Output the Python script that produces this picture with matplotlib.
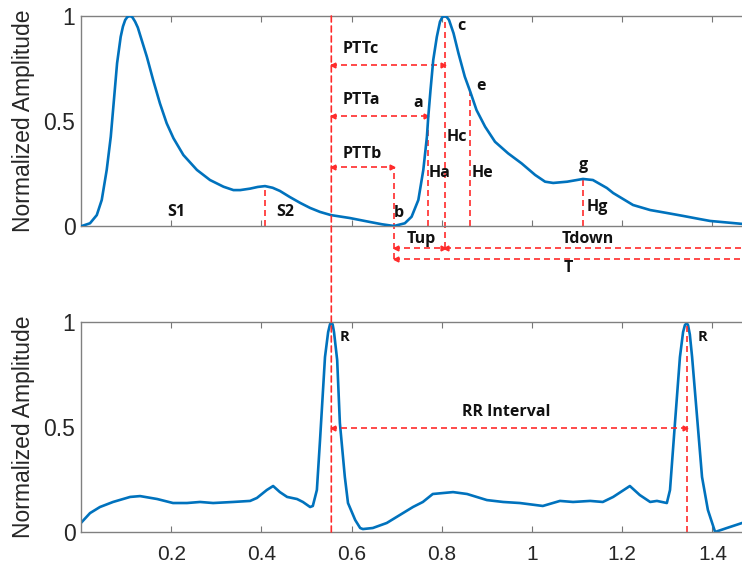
import numpy as np
import matplotlib
matplotlib.use("Agg")
import matplotlib.pyplot as plt
from matplotlib.patches import ConnectionPatch

# PPG pulse (top), time in s, normalized amplitude
ppg_t = [0.002, 0.020, 0.035, 0.046, 0.057, 0.066, 0.073, 0.080, 0.088, 0.093, 0.098,
         0.103, 0.109, 0.114, 0.120, 0.126, 0.131, 0.146, 0.160, 0.175, 0.190, 0.205,
         0.227, 0.257, 0.286, 0.316, 0.338, 0.353, 0.375, 0.392, 0.408, 0.425, 0.441,
         0.463, 0.486, 0.508, 0.530, 0.554, 0.581, 0.596, 0.641, 0.668, 0.694, 0.718,
         0.733, 0.748, 0.759, 0.767, 0.770, 0.775, 0.781, 0.789, 0.796, 0.801, 0.806,
         0.811, 0.816, 0.826, 0.837, 0.851, 0.863, 0.877, 0.896, 0.918, 0.947, 0.977,
         1.007, 1.029, 1.047, 1.078, 1.113, 1.135, 1.166, 1.180, 1.224, 1.262, 1.299,
         1.335, 1.372, 1.395, 1.446, 1.466]
ppg_amp = [0.0, 0.013, 0.052, 0.124, 0.267, 0.425, 0.600, 0.775, 0.901, 0.950, 0.981,
           0.996, 1.0, 0.994, 0.973, 0.945, 0.910, 0.806, 0.695, 0.584, 0.489, 0.418,
           0.338, 0.267, 0.219, 0.187, 0.171, 0.171, 0.178, 0.186, 0.190, 0.182, 0.167,
           0.138, 0.110, 0.086, 0.067, 0.052, 0.043, 0.038, 0.019, 0.008, 0.0, 0.013,
           0.044, 0.124, 0.267, 0.425, 0.520, 0.648, 0.790, 0.901, 0.973, 0.994, 1.0,
           0.995, 0.981, 0.918, 0.822, 0.711, 0.640, 0.552, 0.473, 0.401, 0.346, 0.298,
           0.243, 0.211, 0.205, 0.211, 0.224, 0.219, 0.181, 0.157, 0.100, 0.076, 0.062,
           0.048, 0.033, 0.024, 0.014, 0.010]

# ECG (bottom)
ecg_t = [0.002, 0.020, 0.042, 0.071, 0.109, 0.131, 0.169, 0.204, 0.235, 0.264, 0.293,
         0.337, 0.375, 0.390, 0.412, 0.426, 0.441, 0.457, 0.479, 0.492, 0.508, 0.514,
         0.523, 0.530, 0.541, 0.548, 0.552, 0.555, 0.558, 0.561, 0.568, 0.574, 0.585,
         0.592, 0.608, 0.619, 0.625, 0.647, 0.678, 0.707, 0.736, 0.758, 0.780, 0.825,
         0.856, 0.900, 0.936, 0.973, 1.024, 1.062, 1.091, 1.129, 1.157, 1.180, 1.217,
         1.239, 1.262, 1.277, 1.299, 1.306, 1.317, 1.328, 1.335, 1.339, 1.343, 1.346,
         1.350, 1.355, 1.366, 1.377, 1.390, 1.406, 1.432, 1.466]
ecg_amp = [0.048, 0.090, 0.119, 0.143, 0.167, 0.171, 0.157, 0.138, 0.138, 0.143, 0.138,
           0.143, 0.148, 0.162, 0.200, 0.219, 0.190, 0.167, 0.157, 0.143, 0.119, 0.124,
           0.200, 0.438, 0.833, 0.952, 0.988, 1.0, 0.988, 0.952, 0.819, 0.519, 0.262,
           0.138, 0.057, 0.019, 0.014, 0.019, 0.043, 0.081, 0.119, 0.143, 0.181, 0.190,
           0.181, 0.152, 0.143, 0.138, 0.124, 0.148, 0.143, 0.148, 0.143, 0.167, 0.219,
           0.176, 0.143, 0.148, 0.138, 0.200, 0.519, 0.833, 0.952, 0.985, 0.995, 0.985,
           0.940, 0.833, 0.548, 0.262, 0.105, 0.0, 0.019, 0.043]

# fiducial points
r1_t, r2_t = 0.555, 1.343
a_t, a_amp = 0.770, 0.520
b_t = 0.694
c_t = 0.806
e_t, e_amp = 0.863, 0.640
g_t, g_amp = 1.113, 0.224
s2_t, s2_amp = 0.408, 0.190

blue = '#0072bd'
red = '#ff2b2b'
dash = dict(color=red, lw=1.2, dashes=(3.6, 2.4), clip_on=False)

plt.rcParams['font.family'] = 'Liberation Sans'

fig = plt.figure(figsize=(7.42, 5.68), dpi=100)
ax1 = fig.add_axes([81 / 742, 342 / 568, 661 / 742, 210 / 568])
ax2 = fig.add_axes([81 / 742, 36 / 568, 661 / 742, 210 / 568])

for ax in (ax1, ax2):
    ax.set_xlim(0, 661 / 451)
    ax.set_ylim(0, 1)
    ax.set_xticks([0.2, 0.4, 0.6, 0.8, 1.0, 1.2, 1.4])
    ax.set_xticklabels(['0.2', '0.4', '0.6', '0.8', '1', '1.2', '1.4'])
    ax.set_yticks([0, 0.5, 1])
    ax.set_yticklabels(['0', '0.5', '1'])
    ax.tick_params(axis='x', direction='in', top=True, length=4, width=0.8,
                   color='#777777', labelsize=15, labelcolor='#262626', pad=9)
    ax.tick_params(axis='y', length=0, labelsize=16.5, labelcolor='#262626', pad=4)
    ax.spines['right'].set_visible(False)
    for s in ('left', 'top', 'bottom'):
        ax.spines[s].set_color('#808080')
        ax.spines[s].set_linewidth(1.0)
    ax.set_ylabel('Normalized Amplitude', fontsize=16.5, color='#262626', labelpad=6)
ax1.tick_params(axis='x', labelbottom=False)


def hline(ax, x0, x1, y, left=True, right=True):
    ax.plot([x0, x1], [y, y], **dash)
    if left:
        ax.plot(x0 + 0.004, y, marker='<', ms=3.5, color=red, clip_on=False)
    if right:
        ax.plot(x1 - 0.004, y, marker='>', ms=3.5, color=red, clip_on=False)


txt = dict(fontfamily='Open Sans', fontweight='bold', fontsize=11.5, color='#111111',
           va='center')

# top panel: PPG
ax1.plot(ppg_t, ppg_amp, color=blue, lw=1.9, zorder=3, solid_joinstyle='round')
ax1.plot([s2_t, s2_t], [0, s2_amp], **dash)
ax1.plot([a_t, a_t], [0, a_amp], **dash)
ax1.plot([e_t, e_t], [0, e_amp], **dash)
ax1.plot([g_t, g_t], [0, g_amp], **dash)
ax1.plot([c_t, c_t], [-0.107, 1.0], **dash)
ax1.plot([b_t, b_t], [-0.155, 0.281], **dash)

hline(ax1, r1_t, c_t, 0.767)
hline(ax1, r1_t, a_t, 0.524)
hline(ax1, r1_t, b_t, 0.281)
hline(ax1, b_t, c_t, -0.107)
hline(ax1, c_t, 1.49, -0.107, right=False)
hline(ax1, b_t, 1.49, -0.155, right=False)

ax1.text(0.580, 0.843, 'PTTc', **txt)
ax1.text(0.580, 0.600, 'PTTa', **txt)
ax1.text(0.580, 0.343, 'PTTb', **txt)
ax1.text(0.747, 0.588, 'a', ha='center', **txt)
ax1.text(0.705, 0.062, 'b', ha='center', **txt)
ax1.text(0.843, 0.952, 'c', ha='center', **txt)
ax1.text(0.887, 0.667, 'e', ha='center', **txt)
ax1.text(1.115, 0.290, 'g', ha='center', **txt)
ax1.text(0.834, 0.424, 'Hc', ha='center', **txt)
ax1.text(0.796, 0.252, 'Ha', ha='center', **txt)
ax1.text(0.891, 0.252, 'He', ha='center', **txt)
ax1.text(1.144, 0.090, 'Hg', ha='center', **txt)
ax1.text(0.211, 0.067, 'S1', ha='center', **txt)
ax1.text(0.452, 0.067, 'S2', ha='center', **txt)
ax1.text(0.754, -0.062, 'Tup', ha='center', clip_on=False, **txt)
ax1.text(1.124, -0.062, 'Tdown', ha='center', clip_on=False, **txt)
ax1.text(1.080, -0.200, 'T', ha='center', clip_on=False, **txt)

# bottom panel: ECG
ax2.plot(ecg_t, ecg_amp, color=blue, lw=1.9, zorder=2, solid_joinstyle='round')
ax2.plot([r2_t, r2_t], [0, 1.0], **dash)
hline(ax2, r1_t, r2_t, 0.494)
ax2.text(0.942, 0.571, 'RR Interval', ha='center', **txt)
rtxt = dict(txt, fontsize=10.5)
ax2.text(0.585, 0.929, 'R', ha='center', **rtxt)
ax2.text(1.379, 0.929, 'R', ha='center', **rtxt)

# R-peak marker running through both panels
con = ConnectionPatch(xyA=(r1_t, 1.0), coordsA=ax1.transData,
                      xyB=(r1_t, 0.0), coordsB=ax2.transData,
                      color=red, lw=1.2, linestyle=(0, (3.6, 2.4)), zorder=5)
fig.add_artist(con)

fig.savefig('out.png', dpi=100)
